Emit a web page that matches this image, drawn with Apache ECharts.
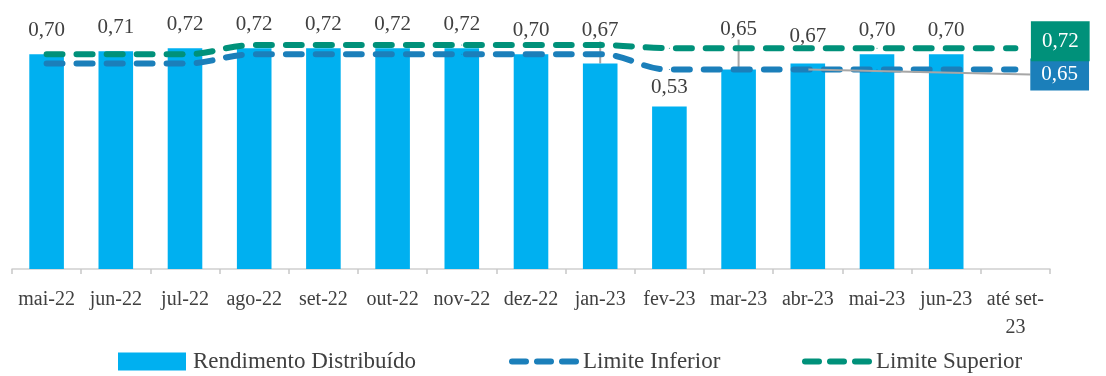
<!DOCTYPE html>
<html>
<head>
<meta charset="utf-8">
<script src="https://cdn.jsdelivr.net/npm/echarts@6/dist/echarts.min.js"></script>
<style>
html,body{margin:0;padding:0;background:#fff;}
#chart{width:1106px;height:376px;}
</style>
</head>
<body>
<div id="chart"></div>
<script>
const categories = ['mai-22','jun-22','jul-22','ago-22','set-22','out-22','nov-22','dez-22','jan-23','fev-23','mar-23','abr-23','mai-23','jun-23','até set-23'];
const rendimento = [0.70,0.71,0.72,0.72,0.72,0.72,0.72,0.70,0.67,0.53,0.65,0.67,0.70,0.70,null];
const limiteInferior = [0.67,0.67,0.67,0.70,0.70,0.70,0.70,0.70,0.70,0.65,0.65,0.65,0.65,0.65,0.65];
const limiteSuperior = [0.70,0.70,0.70,0.73,0.73,0.73,0.73,0.73,0.73,0.72,0.72,0.72,0.72,0.72,0.72];
const seriesNames = ['Rendimento Distribuído','Limite Inferior','Limite Superior'];

const FONT = '"Liberation Serif", "DejaVu Serif", serif';
const TXT = '#404040';
const BAR = '#00B0F0';
const BLUE = '#1B7FBA';
const GREEN = '#00917A';
const fmt = v => (v == null ? '' : Number(v).toFixed(2).replace('.', ','));

const guided = [8, 10];
const barData = rendimento.map((v, i) => guided.includes(i) ? {value: v, labelLine: {show: true}} : v);
const lastIdx = limiteSuperior.length - 1;
const infLabelIdx = 11;
const infData = limiteInferior.map((v, i) => i === infLabelIdx ? {
  value: v,
  label: {show: true, position: 'right', distance: 5, formatter: p => fmt(p.value),
    color: '#fff', fontFamily: FONT, fontSize: 21, backgroundColor: BLUE, padding: [6, 11, 5, 11]},
  labelLine: {show: true, lineStyle: {color: '#A6A6A6', width: 2}}
} : v);
const supData = limiteSuperior.map((v, i) => i === lastIdx ? {
  value: v,
  label: {show: true, position: 'right', distance: 15, offset: [0, -7], formatter: p => fmt(p.value),
    color: '#fff', fontFamily: FONT, fontSize: 21, backgroundColor: GREEN, padding: [10, 11, 9, 11]}
} : v);

const dashStyle = {type: [16, 14], width: 6, cap: 'round'};
const legendBase = {
  top: 345, itemHeight: 18, textStyle: {fontFamily: FONT, fontSize: 23, color: TXT, padding: [0, 0, 0, 2]},
  selectedMode: false
};

const chart = echarts.init(document.getElementById('chart'), null, {renderer: 'canvas'});
chart.setOption({
  animation: false,
  backgroundColor: '#fff',
  grid: {left: 12, right: 56, top: 23.6, bottom: 107, containLabel: false},
  legend: [
    Object.assign({}, legendBase, {left: 113, itemWidth: 68, icon: 'rect', data: [seriesNames[0]]}),
    Object.assign({}, legendBase, {left: 504, itemWidth: 64, data: [seriesNames[1]],
      itemStyle: {opacity: 0}, lineStyle: {type: [14, 11], width: 6, cap: 'round'}}),
    Object.assign({}, legendBase, {left: 797, itemWidth: 64, data: [seriesNames[2]],
      itemStyle: {opacity: 0}, lineStyle: {type: [14, 11], width: 6, cap: 'round'}})
  ],
  xAxis: {
    type: 'category',
    data: categories,
    boundaryGap: true,
    axisLine: {lineStyle: {color: '#D0D0D0', width: 1.5}},
    axisTick: {show: true, length: 5, lineStyle: {color: '#C8C8C8', width: 1.5}},
    axisLabel: {
      interval: 0, margin: 17, color: TXT, fontFamily: FONT, fontSize: 20, lineHeight: 28,
      formatter: v => v.replace(' set-', ' set-\n')
    }
  },
  yAxis: {type: 'value', min: 0, max: 0.8, show: false, splitLine: {show: false}},
  series: [
    {
      name: seriesNames[0], type: 'bar', data: barData, barWidth: '50%',
      itemStyle: {color: BAR},
      label: {show: true, position: 'top', distance: 13, formatter: p => fmt(p.value),
        color: TXT, fontFamily: FONT, fontSize: 21},
      labelLine: {show: false, lineStyle: {color: '#A6A6A6', width: 2}},
      labelLayout: p => {
        if (p.dataIndex === 8) return {dy: -9};
        if (p.dataIndex === 10) return {dy: -17};
        if (p.dataIndex === 11) return {dy: -3};
        if (p.dataIndex === 9) return {dy: 5};
        return {};
      },
      z: 2
    },
    {
      name: seriesNames[1], type: 'line', data: infData, smooth: 0.4,
      symbol: 'circle', symbolSize: 1, showSymbol: true,
      itemStyle: {color: BLUE},
      lineStyle: Object.assign({color: BLUE}, dashStyle),
      labelLayout: p => p.dataIndex === infLabelIdx ? {dx: 217, dy: 5} : {},
      z: 3
    },
    {
      name: seriesNames[2], type: 'line', data: supData, smooth: 0.4,
      symbol: 'circle', symbolSize: 1, showSymbol: true,
      itemStyle: {color: GREEN},
      lineStyle: Object.assign({color: GREEN}, dashStyle),
      z: 3
    }
  ]
});
</script>
</body>
</html>
